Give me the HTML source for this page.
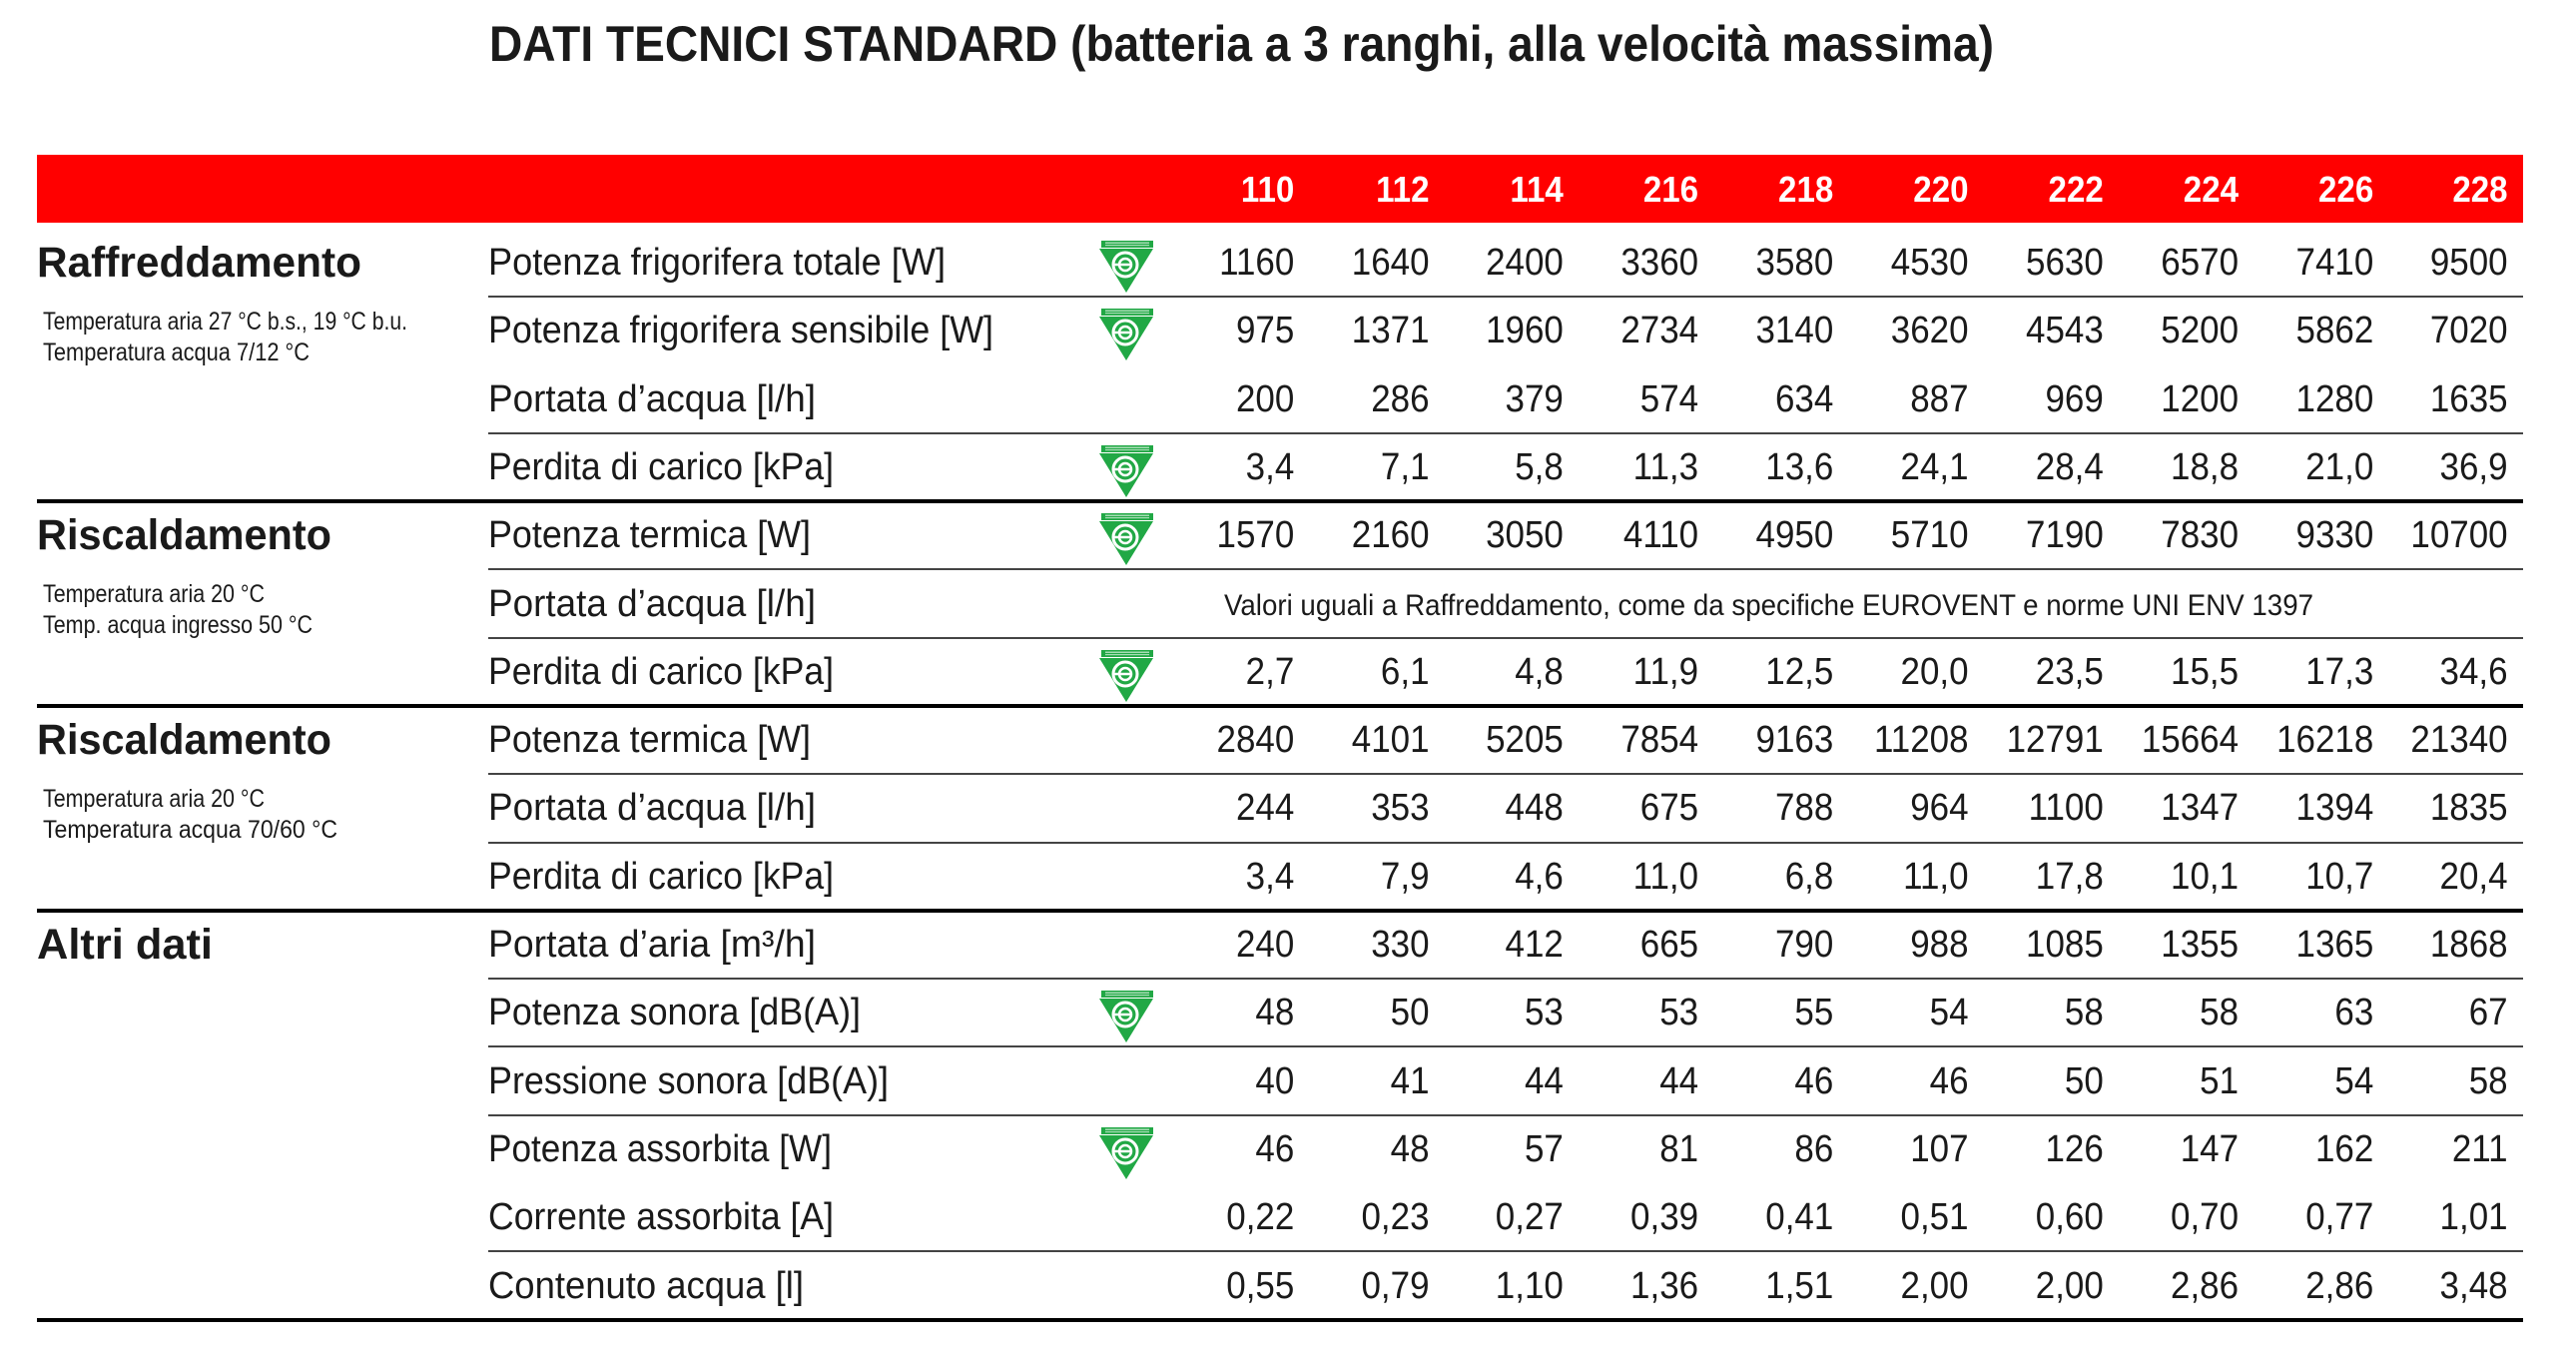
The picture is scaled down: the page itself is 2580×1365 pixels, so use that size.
<!DOCTYPE html>
<html><head><meta charset="utf-8"><style>
html,body{margin:0;padding:0;background:#fff;}
svg{display:block;}
text{font-family:"Liberation Sans",sans-serif;fill:#1a1a1a;}
.lb{font-size:38px;}
.sec{font-size:43px;font-weight:bold;}
.note{font-size:25px;}
.n{font-size:38px;text-anchor:end;}
.h{font-size:36px;font-weight:bold;fill:#fff;text-anchor:end;}
</style></head><body>
<svg width="2580" height="1365" viewBox="0 0 2580 1365" xmlns="http://www.w3.org/2000/svg">
<defs>
<g id="ev">
<rect x="2" y="0" width="52" height="7" fill="#21a845"/>
<rect x="6" y="1.5" width="44" height="1.5" fill="#fff" opacity="0.6"/>
<rect x="6" y="4" width="44" height="1.2" fill="#fff" opacity="0.6"/>
<polygon points="0,8 54,8 27,52" fill="#21a845"/>
<circle cx="26" cy="24" r="12" fill="none" stroke="#fff" stroke-width="3"/>
<circle cx="26" cy="24" r="6" fill="none" stroke="#fff" stroke-width="2.5"/>
<line x1="14" y1="24" x2="32" y2="24" stroke="#fff" stroke-width="2.5"/>
</g>
</defs>
<text x="490" y="61" style="font-size:50px;font-weight:bold" textLength="1507" lengthAdjust="spacingAndGlyphs">DATI TECNICI STANDARD (batteria a 3 ranghi, alla velocità massima)</text>
<rect x="37" y="155" width="2490" height="68" fill="#ff0000"/>
<g transform="scale(0.92,1)">
<text class="h" x="1409" y="202">110</text><text class="h" x="1556" y="202">112</text><text class="h" x="1702" y="202">114</text><text class="h" x="1849" y="202">216</text><text class="h" x="1996" y="202">218</text><text class="h" x="2143" y="202">220</text><text class="h" x="2290" y="202">222</text><text class="h" x="2437" y="202">224</text><text class="h" x="2584" y="202">226</text><text class="h" x="2730" y="202">228</text>
</g>
<g stroke="#444" stroke-width="2">
<line x1="489" x2="2527" y1="297" y2="297"/>
<line x1="489" x2="2527" y1="434" y2="434"/>
<line x1="489" x2="2527" y1="570" y2="570"/>
<line x1="489" x2="2527" y1="639" y2="639"/>
<line x1="489" x2="2527" y1="775" y2="775"/>
<line x1="489" x2="2527" y1="844" y2="844"/>
<line x1="489" x2="2527" y1="980" y2="980"/>
<line x1="489" x2="2527" y1="1048" y2="1048"/>
<line x1="489" x2="2527" y1="1117" y2="1117"/>
<line x1="489" x2="2527" y1="1253" y2="1253"/>
</g>
<g stroke="#000" stroke-width="4">
<line x1="37" x2="2527" y1="502" y2="502"/>
<line x1="37" x2="2527" y1="707" y2="707"/>
<line x1="37" x2="2527" y1="912" y2="912"/>
<line x1="37" x2="2527" y1="1322" y2="1322"/>
</g>
<text class="sec" x="37" y="277" textLength="325" lengthAdjust="spacingAndGlyphs">Raffreddamento</text>
<text class="note" x="43" y="330" textLength="365" lengthAdjust="spacingAndGlyphs">Temperatura aria 27 °C b.s., 19 °C b.u.</text>
<text class="note" x="43" y="361" textLength="267" lengthAdjust="spacingAndGlyphs">Temperatura acqua 7/12 °C</text>
<text class="sec" x="37" y="550" textLength="295" lengthAdjust="spacingAndGlyphs">Riscaldamento</text>
<text class="note" x="43" y="603" textLength="222" lengthAdjust="spacingAndGlyphs">Temperatura aria 20 °C</text>
<text class="note" x="43" y="634" textLength="270" lengthAdjust="spacingAndGlyphs">Temp. acqua ingresso 50 °C</text>
<text class="sec" x="37" y="755" textLength="295" lengthAdjust="spacingAndGlyphs">Riscaldamento</text>
<text class="note" x="43" y="808" textLength="222" lengthAdjust="spacingAndGlyphs">Temperatura aria 20 °C</text>
<text class="note" x="43" y="839" textLength="295" lengthAdjust="spacingAndGlyphs">Temperatura acqua 70/60 °C</text>
<text class="sec" x="37" y="960" textLength="176" lengthAdjust="spacingAndGlyphs">Altri dati</text>
<text class="lb" x="489" y="275" textLength="458" lengthAdjust="spacingAndGlyphs">Potenza frigorifera totale [W]</text>
<text class="lb" x="489" y="343" textLength="506" lengthAdjust="spacingAndGlyphs">Potenza frigorifera sensibile [W]</text>
<text class="lb" x="489" y="412" textLength="328" lengthAdjust="spacingAndGlyphs">Portata d’acqua [l/h]</text>
<text class="lb" x="489" y="480" textLength="346" lengthAdjust="spacingAndGlyphs">Perdita di carico [kPa]</text>
<text class="lb" x="489" y="548" textLength="323" lengthAdjust="spacingAndGlyphs">Potenza termica [W]</text>
<text class="lb" x="489" y="617" textLength="328" lengthAdjust="spacingAndGlyphs">Portata d’acqua [l/h]</text>
<text class="lb" x="489" y="685" textLength="346" lengthAdjust="spacingAndGlyphs">Perdita di carico [kPa]</text>
<text class="lb" x="489" y="753" textLength="323" lengthAdjust="spacingAndGlyphs">Potenza termica [W]</text>
<text class="lb" x="489" y="821" textLength="328" lengthAdjust="spacingAndGlyphs">Portata d’acqua [l/h]</text>
<text class="lb" x="489" y="890" textLength="346" lengthAdjust="spacingAndGlyphs">Perdita di carico [kPa]</text>
<text class="lb" x="489" y="958" textLength="328" lengthAdjust="spacingAndGlyphs">Portata d’aria [m³/h]</text>
<text class="lb" x="489" y="1026" textLength="373" lengthAdjust="spacingAndGlyphs">Potenza sonora [dB(A)]</text>
<text class="lb" x="489" y="1095" textLength="401" lengthAdjust="spacingAndGlyphs">Pressione sonora [dB(A)]</text>
<text class="lb" x="489" y="1163" textLength="344" lengthAdjust="spacingAndGlyphs">Potenza assorbita [W]</text>
<text class="lb" x="489" y="1231" textLength="346" lengthAdjust="spacingAndGlyphs">Corrente assorbita [A]</text>
<text class="lb" x="489" y="1300" textLength="316" lengthAdjust="spacingAndGlyphs">Contenuto acqua [l]</text>
<use href="#ev" x="1101" y="241"/>
<use href="#ev" x="1101" y="309"/>
<use href="#ev" x="1101" y="446"/>
<use href="#ev" x="1101" y="514"/>
<use href="#ev" x="1101" y="651"/>
<use href="#ev" x="1101" y="992"/>
<use href="#ev" x="1101" y="1129"/>
<text x="1226" y="616" style="font-size:30px" textLength="1091" lengthAdjust="spacingAndGlyphs">Valori uguali a Raffreddamento, come da specifiche EUROVENT e norme UNI ENV 1397</text>
<g transform="scale(0.92,1)">
<g transform="translate(0,275)"><text class="n" x="1409">1160</text><text class="n" x="1556">1640</text><text class="n" x="1702">2400</text><text class="n" x="1849">3360</text><text class="n" x="1996">3580</text><text class="n" x="2143">4530</text><text class="n" x="2290">5630</text><text class="n" x="2437">6570</text><text class="n" x="2584">7410</text><text class="n" x="2730">9500</text></g>
<g transform="translate(0,343)"><text class="n" x="1409">975</text><text class="n" x="1556">1371</text><text class="n" x="1702">1960</text><text class="n" x="1849">2734</text><text class="n" x="1996">3140</text><text class="n" x="2143">3620</text><text class="n" x="2290">4543</text><text class="n" x="2437">5200</text><text class="n" x="2584">5862</text><text class="n" x="2730">7020</text></g>
<g transform="translate(0,412)"><text class="n" x="1409">200</text><text class="n" x="1556">286</text><text class="n" x="1702">379</text><text class="n" x="1849">574</text><text class="n" x="1996">634</text><text class="n" x="2143">887</text><text class="n" x="2290">969</text><text class="n" x="2437">1200</text><text class="n" x="2584">1280</text><text class="n" x="2730">1635</text></g>
<g transform="translate(0,480)"><text class="n" x="1409">3,4</text><text class="n" x="1556">7,1</text><text class="n" x="1702">5,8</text><text class="n" x="1849">11,3</text><text class="n" x="1996">13,6</text><text class="n" x="2143">24,1</text><text class="n" x="2290">28,4</text><text class="n" x="2437">18,8</text><text class="n" x="2584">21,0</text><text class="n" x="2730">36,9</text></g>
<g transform="translate(0,548)"><text class="n" x="1409">1570</text><text class="n" x="1556">2160</text><text class="n" x="1702">3050</text><text class="n" x="1849">4110</text><text class="n" x="1996">4950</text><text class="n" x="2143">5710</text><text class="n" x="2290">7190</text><text class="n" x="2437">7830</text><text class="n" x="2584">9330</text><text class="n" x="2730">10700</text></g>
<g transform="translate(0,685)"><text class="n" x="1409">2,7</text><text class="n" x="1556">6,1</text><text class="n" x="1702">4,8</text><text class="n" x="1849">11,9</text><text class="n" x="1996">12,5</text><text class="n" x="2143">20,0</text><text class="n" x="2290">23,5</text><text class="n" x="2437">15,5</text><text class="n" x="2584">17,3</text><text class="n" x="2730">34,6</text></g>
<g transform="translate(0,753)"><text class="n" x="1409">2840</text><text class="n" x="1556">4101</text><text class="n" x="1702">5205</text><text class="n" x="1849">7854</text><text class="n" x="1996">9163</text><text class="n" x="2143">11208</text><text class="n" x="2290">12791</text><text class="n" x="2437">15664</text><text class="n" x="2584">16218</text><text class="n" x="2730">21340</text></g>
<g transform="translate(0,821)"><text class="n" x="1409">244</text><text class="n" x="1556">353</text><text class="n" x="1702">448</text><text class="n" x="1849">675</text><text class="n" x="1996">788</text><text class="n" x="2143">964</text><text class="n" x="2290">1100</text><text class="n" x="2437">1347</text><text class="n" x="2584">1394</text><text class="n" x="2730">1835</text></g>
<g transform="translate(0,890)"><text class="n" x="1409">3,4</text><text class="n" x="1556">7,9</text><text class="n" x="1702">4,6</text><text class="n" x="1849">11,0</text><text class="n" x="1996">6,8</text><text class="n" x="2143">11,0</text><text class="n" x="2290">17,8</text><text class="n" x="2437">10,1</text><text class="n" x="2584">10,7</text><text class="n" x="2730">20,4</text></g>
<g transform="translate(0,958)"><text class="n" x="1409">240</text><text class="n" x="1556">330</text><text class="n" x="1702">412</text><text class="n" x="1849">665</text><text class="n" x="1996">790</text><text class="n" x="2143">988</text><text class="n" x="2290">1085</text><text class="n" x="2437">1355</text><text class="n" x="2584">1365</text><text class="n" x="2730">1868</text></g>
<g transform="translate(0,1026)"><text class="n" x="1409">48</text><text class="n" x="1556">50</text><text class="n" x="1702">53</text><text class="n" x="1849">53</text><text class="n" x="1996">55</text><text class="n" x="2143">54</text><text class="n" x="2290">58</text><text class="n" x="2437">58</text><text class="n" x="2584">63</text><text class="n" x="2730">67</text></g>
<g transform="translate(0,1095)"><text class="n" x="1409">40</text><text class="n" x="1556">41</text><text class="n" x="1702">44</text><text class="n" x="1849">44</text><text class="n" x="1996">46</text><text class="n" x="2143">46</text><text class="n" x="2290">50</text><text class="n" x="2437">51</text><text class="n" x="2584">54</text><text class="n" x="2730">58</text></g>
<g transform="translate(0,1163)"><text class="n" x="1409">46</text><text class="n" x="1556">48</text><text class="n" x="1702">57</text><text class="n" x="1849">81</text><text class="n" x="1996">86</text><text class="n" x="2143">107</text><text class="n" x="2290">126</text><text class="n" x="2437">147</text><text class="n" x="2584">162</text><text class="n" x="2730">211</text></g>
<g transform="translate(0,1231)"><text class="n" x="1409">0,22</text><text class="n" x="1556">0,23</text><text class="n" x="1702">0,27</text><text class="n" x="1849">0,39</text><text class="n" x="1996">0,41</text><text class="n" x="2143">0,51</text><text class="n" x="2290">0,60</text><text class="n" x="2437">0,70</text><text class="n" x="2584">0,77</text><text class="n" x="2730">1,01</text></g>
<g transform="translate(0,1300)"><text class="n" x="1409">0,55</text><text class="n" x="1556">0,79</text><text class="n" x="1702">1,10</text><text class="n" x="1849">1,36</text><text class="n" x="1996">1,51</text><text class="n" x="2143">2,00</text><text class="n" x="2290">2,00</text><text class="n" x="2437">2,86</text><text class="n" x="2584">2,86</text><text class="n" x="2730">3,48</text></g>
</g>
</svg>
</body></html>
